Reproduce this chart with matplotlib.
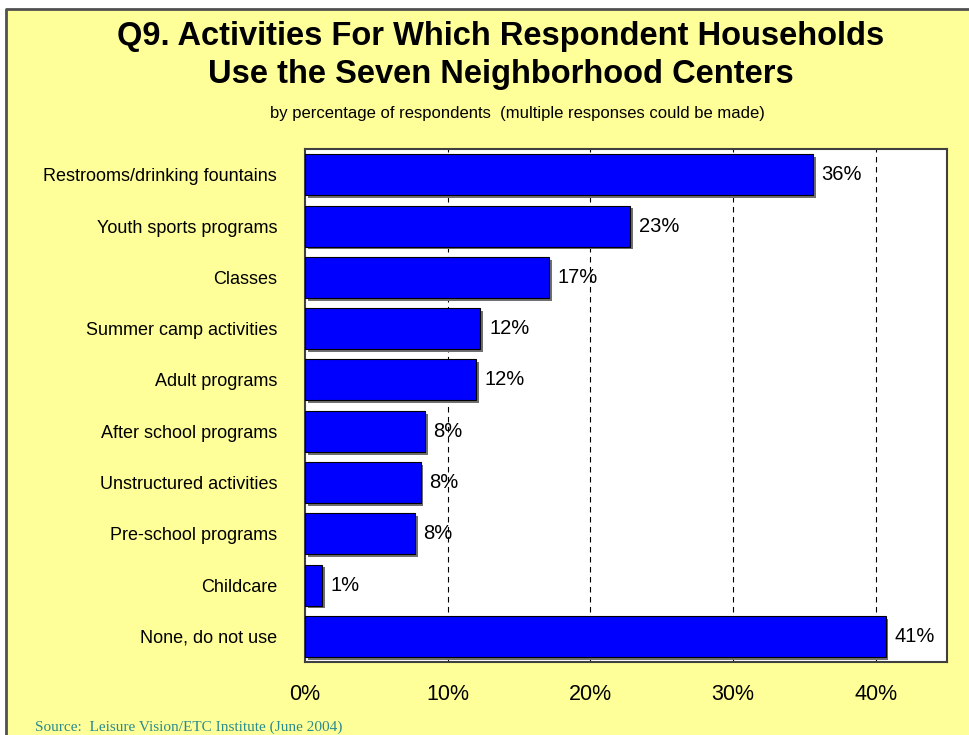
import matplotlib.pyplot as plt
import matplotlib.patheffects as pe
from matplotlib.patches import Rectangle
from matplotlib.lines import Line2D

categories = ['Restrooms/drinking fountains', 'Youth sports programs', 'Classes',
              'Summer camp activities', 'Adult programs', 'After school programs',
              'Unstructured activities', 'Pre-school programs', 'Childcare',
              'None, do not use']
values = [35.6, 22.8, 17.1, 12.3, 12.0, 8.4, 8.1, 7.7, 1.2, 40.7]
value_labels = ['36%', '23%', '17%', '12%', '12%', '8%', '8%', '8%', '1%', '41%']
x_ticks = [0, 10, 20, 30, 40]
x_tick_labels = ['0%', '10%', '20%', '30%', '40%']

plt.rcParams['font.family'] = ['Liberation Sans', 'DejaVu Sans']

W, H = 970, 735
fig = plt.figure(figsize=(9.7, 7.35), dpi=100)
fig.patch.set_facecolor('white')
# yellow slide background with a dark edge on the left and top
x0, y0 = 6 / W, 1 - 9 / H
fig.patches.append(Rectangle((x0, 0), 1 - x0, y0, transform=fig.transFigure,
                             facecolor='#FFFF99', edgecolor='none', zorder=-2))
fig.lines.append(Line2D([x0, x0, 1], [0, y0, y0], transform=fig.transFigure,
                        color='#505050', linewidth=2, zorder=-1))

ax = fig.add_axes([0.3144, 0.0993, 0.6619, 0.6977])
ax.set_zorder(2)
ax.set_facecolor('white')

ypos = list(range(len(categories)))
bars = ax.barh(ypos, values, height=0.8, color='#0000FF', edgecolor='black', linewidth=0.8,
               zorder=3)
for b in bars:
    b.set_path_effects([pe.SimplePatchShadow(offset=(2, -2), shadow_rgbFace='#707070', alpha=1.0),
                        pe.Normal()])

for y, v, lab in zip(ypos, values, value_labels):
    ax.text(v + 0.6, y, lab, va='center', ha='left', fontsize=14.5, zorder=4)

ax.set_xlim(0, 45)
ax.set_ylim(len(categories) - 0.5, -0.5)
ax.set_yticks(ypos)
ax.set_yticklabels(categories, fontsize=13)
ax.set_xticks(x_ticks)
ax.set_xticklabels(x_tick_labels, fontsize=15.5)
ax.tick_params(axis='y', length=0, pad=20)
ax.tick_params(axis='x', length=0, pad=16)

for x in x_ticks[1:]:
    ax.axvline(x, color='black', linestyle=(0, (5, 4)), linewidth=0.8, zorder=1)

for s in ax.spines.values():
    s.set_color('#404040')
    s.set_linewidth(1.5)

fig.text(0.516, 0.950, 'Q9. Activities For Which Respondent Households',
         ha='center', va='center', fontsize=23.5, fontweight='bold')
fig.text(0.516, 0.899, 'Use the Seven Neighborhood Centers',
         ha='center', va='center', fontsize=23.5, fontweight='bold')
fig.text(0.533, 0.846, 'by percentage of respondents  (multiple responses could be made)',
         ha='center', va='center', fontsize=12)
fig.text(0.036, 0.001, 'Source:  Leisure Vision/ETC Institute (June 2004)',
         ha='left', va='bottom', fontsize=11, color='#2a8c8c', family='Liberation Serif')

fig.savefig('out.png', dpi=100, facecolor=fig.get_facecolor())
